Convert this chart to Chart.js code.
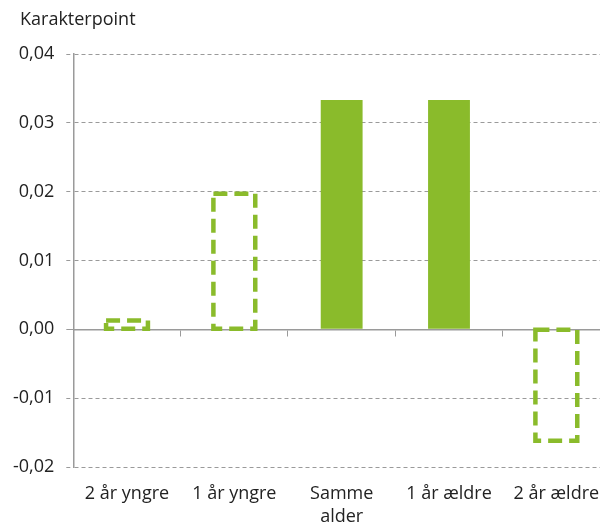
<!DOCTYPE html>
<html>
<head>
<meta charset="utf-8">
<script src="https://cdn.jsdelivr.net/npm/chart.js@4.4.1/dist/chart.umd.min.js"></script>
<style>
  html, body { margin: 0; padding: 0; background: #fff; overflow: hidden; }
  #wrap { width: 600px; height: 528px; overflow: hidden; }
  canvas { display: block; }
</style>
</head>
<body>
<div id="wrap"><canvas id="c" width="610" height="528"></canvas></div>
<script>
const categories = ["2 år yngre", "1 år yngre", ["Samme", "alder"], "1 år ældre", "2 år ældre"];
const values = [0.0013, 0.0197, 0.0333, 0.0333, -0.0162];
const outlined = [true, true, false, false, true];
const yTicks = { min: -0.02, max: 0.04, step: 0.01 };
const unitLabel = "Karakterpoint";

const GREEN = "#8abb2b";
const GRID = "#9a9a9a";
const FONT = "'Open Sans', 'Noto Sans', sans-serif";
const FS = 18;

const dashedBars = {
  id: 'dashedBars',
  afterDatasetsDraw(chart) {
    const ctx = chart.ctx;
    const meta = chart.getDatasetMeta(0);
    ctx.save();
    ctx.strokeStyle = GREEN;
    ctx.lineWidth = 4.5;
    ctx.setLineDash([14, 7]);
    ctx.lineCap = 'butt';
    meta.data.forEach((el, i) => {
      if (!outlined[i]) return;
      const p = el.getProps(['x', 'y', 'base', 'width'], true);
      const top = Math.min(p.y, p.base);
      const h = Math.abs(p.base - p.y);
      ctx.beginPath();
      ctx.rect(p.x - p.width / 2, top, p.width, h);
      ctx.stroke();
    });
    ctx.restore();
  }
};

const unitTitle = {
  id: 'unitTitle',
  afterDraw(chart) {
    const ctx = chart.ctx;
    ctx.save();
    ctx.font = FS + "px " + FONT;
    ctx.fillStyle = "#222";
    ctx.textBaseline = "middle";
    ctx.textAlign = "left";
    ctx.fillText(unitLabel, 20, 20);
    ctx.restore();
  }
};

new Chart(document.getElementById('c'), {
  type: 'bar',
  data: {
    labels: categories,
    datasets: [{
      data: values,
      backgroundColor: values.map((v, i) => outlined[i] ? 'rgba(0,0,0,0)' : GREEN),
      borderWidth: 0,
      barPercentage: 0.39,
      categoryPercentage: 1.0
    }]
  },
  options: {
    responsive: false,
    animation: false,
    devicePixelRatio: 1,
    layout: { padding: { top: 54, right: 0, bottom: 0, left: 1 } },
    plugins: { legend: { display: false }, tooltip: { enabled: false }, title: { display: false } },
    scales: {
      x: {
        type: 'category',
        position: 'bottom',
        offset: true,
        grid: { display: true, drawOnChartArea: false, drawTicks: true, tickLength: 15, tickColor: 'rgba(0,0,0,0)', color: 'rgba(0,0,0,0)' },
        border: { display: false },
        ticks: { color: '#222', font: { family: FONT, size: FS, lineHeight: '23px' }, padding: 0, maxRotation: 0, autoSkip: false }
      },
      x2: {
        type: 'category',
        labels: categories,
        position: { y: 0 },
        offset: true,
        grid: { display: true, drawOnChartArea: false, drawTicks: true, tickLength: 6, color: GRID, tickColor: GRID, offset: true },
        border: { display: true, color: GRID, width: 1.5 },
        ticks: { display: false }
      },
      y: {
        min: yTicks.min,
        max: yTicks.max,
        ticks: {
          stepSize: yTicks.step,
          color: '#222',
          font: { family: FONT, size: FS },
          padding: 12,
          callback: (v) => (Math.abs(v) < 1e-9 ? 0 : v).toFixed(2).replace('.', ',')
        },
        grid: {
          color: GRID,
          lineWidth: 1,
          tickLength: 7,
          tickColor: GRID,
          tickBorderDash: (ctx) => (ctx.tick && Math.abs(ctx.tick.value) < 1e-9) ? [] : [4, 3]
        },
        border: { display: true, color: GRID, width: 1.5, dash: [4, 3] }
      }
    }
  },
  plugins: [dashedBars, unitTitle]
});
</script>
</body>
</html>
